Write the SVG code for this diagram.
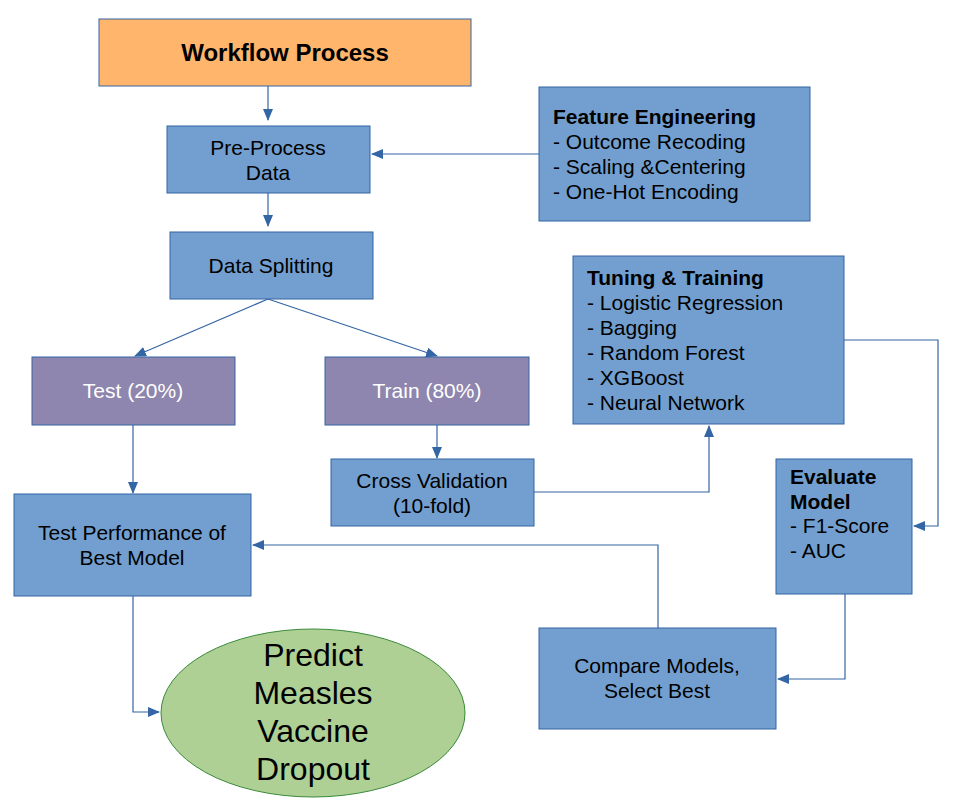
<svg xmlns="http://www.w3.org/2000/svg" width="967" height="810" viewBox="0 0 967 810">
<style>
.b{fill:#729fcf;stroke:#3465a4;stroke-width:1}
.p{fill:#8e86ae;stroke:#3465a4;stroke-width:1}
text{font-family:"Liberation Sans",Arial,sans-serif;font-size:21px;fill:#000}
.w{fill:#fff}
.c{text-anchor:middle}
.bold{font-weight:bold}
.l{fill:none;stroke:#3465a4;stroke-width:1.2;marker-end:url(#a)}
</style>
<defs><marker id="a" markerWidth="12" markerHeight="10" refX="11" refY="5" orient="auto" markerUnits="userSpaceOnUse"><path d="M0,0L12,5L0,10z" fill="#3465a4"/></marker></defs>
<rect width="967" height="810" fill="#fff"/>
<g id="connectors">
<path class="l" d="M268,86V120"/>
<path class="l" d="M539,154H372"/>
<path class="l" d="M268,193V226"/>
<path class="l" d="M268,299L135,356"/>
<path class="l" d="M268,299L437,356"/>
<path class="l" d="M437,425V458"/>
<path class="l" d="M133,425V493"/>
<path class="l" d="M534,492H709V426"/>
<path class="l" d="M844,340H938V526H914"/>
<path class="l" d="M845,594V679H778"/>
<path class="l" d="M658,628V545H253"/>
<path class="l" d="M133,596V712H159"/>
</g>
<g id="workflow"><rect x="99" y="19" width="372" height="67" fill="#ffb66c" stroke="#3465a4"/><text x="285" y="61" class="c bold" font-size="24" style="font-size:24px">Workflow Process</text></g>
<g id="preprocess"><rect class="b" x="167" y="126" width="203" height="67"/><text x="268" y="155" class="c">Pre-Process</text><text x="268" y="180" class="c">Data</text></g>
<g id="feature"><rect class="b" x="539" y="87" width="271" height="134"/><text x="553" y="124" class="bold">Feature Engineering</text><text x="553" y="149">- Outcome Recoding</text><text x="553" y="174">- Scaling &amp;Centering</text><text x="553" y="199">- One-Hot Encoding</text></g>
<g id="splitting"><rect class="b" x="170" y="232" width="203" height="67"/><text x="271" y="273" class="c">Data Splitting</text></g>
<g id="tuning"><rect class="b" x="573" y="256" width="271" height="168"/><text x="587" y="285" class="bold">Tuning &amp; Training</text><text x="587" y="310">- Logistic Regression</text><text x="587" y="335">- Bagging</text><text x="587" y="360">- Random Forest</text><text x="587" y="385">- XGBoost</text><text x="587" y="410">- Neural Network</text></g>
<g id="test"><rect class="p" x="32" y="357" width="203" height="68"/><text x="133" y="398" class="c w">Test (20%)</text></g>
<g id="train"><rect class="p" x="325" y="357" width="204" height="68"/><text x="427" y="398" class="c w">Train (80%)</text></g>
<g id="cv"><rect class="b" x="331" y="459" width="203" height="67"/><text x="432" y="488" class="c">Cross Validation</text><text x="432" y="513" class="c">(10-fold)</text></g>
<g id="evaluate"><rect class="b" x="776" y="459" width="136" height="135"/><text x="790" y="484" class="bold">Evaluate</text><text x="790" y="509" class="bold">Model</text><text x="790" y="533">- F1-Score</text><text x="790" y="558">- AUC</text></g>
<g id="testperf"><rect class="b" x="14" y="494" width="237" height="102"/><text x="132" y="540" class="c">Test Performance of</text><text x="132" y="565" class="c">Best Model</text></g>
<g id="compare"><rect class="b" x="539" y="628" width="237" height="101"/><text x="657" y="673" class="c">Compare Models,</text><text x="657" y="698" class="c">Select Best</text></g>
<g id="predict"><ellipse cx="313" cy="713" rx="152" ry="84" fill="#afd095" stroke="#3a8a3a"/><text x="313" y="666" class="c" style="font-size:32px">Predict</text><text x="313" y="704" class="c" style="font-size:32px">Measles</text><text x="313" y="742" class="c" style="font-size:32px">Vaccine</text><text x="313" y="780" class="c" style="font-size:32px">Dropout</text></g>
</svg>
